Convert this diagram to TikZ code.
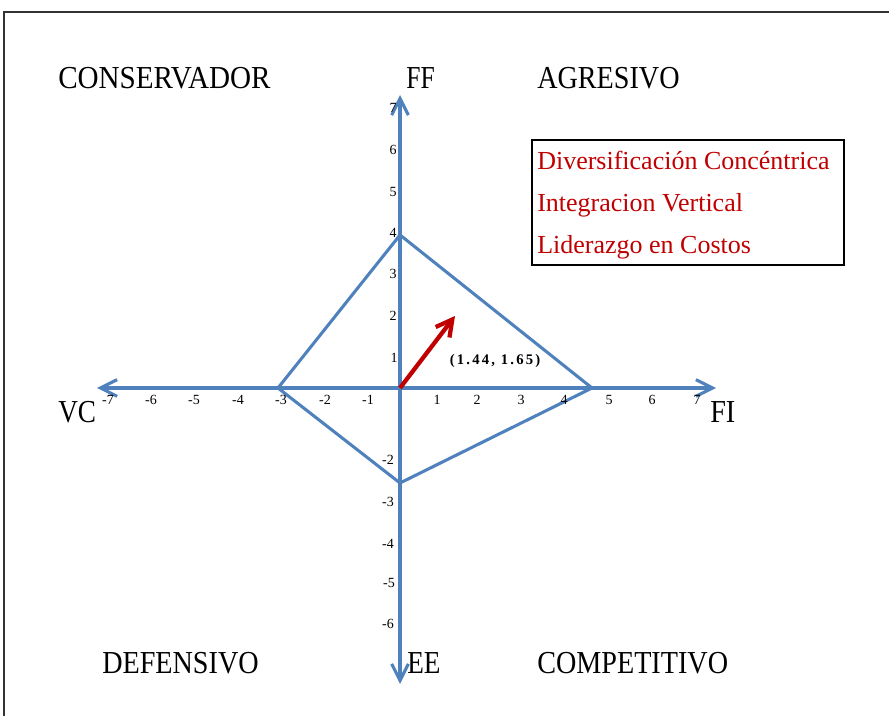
\documentclass[tikz,border=0pt]{standalone}
\usepackage{fontspec}
\setmainfont{Liberation Serif}
\usetikzlibrary{arrows.meta}
\definecolor{axisblue}{RGB}{79,129,189}
\definecolor{boxred}{RGB}{192,0,0}
\definecolor{framegray}{RGB}{50,50,50}
\begin{document}
\begin{tikzpicture}[x=0.75pt,y=-0.75pt,
  axis/.style={draw=axisblue, line width=2.3pt, line join=miter},
  axisarrow/.style={axis, {Straight Barb[length=12.5pt,width=12.5pt]}-{Straight Barb[length=12.5pt,width=12.5pt]}},
  ticklbl/.style={font=\fontsize{10.5}{12}\selectfont, inner sep=0pt, anchor=center},
  biglbl/.style={font=\fontsize{24}{26}\selectfont, inner sep=0pt, anchor=base west},
  redtxt/.style={font=\fontsize{19.5}{22}\selectfont, text=boxred, inner sep=0pt, anchor=base west},
  vec/.style={draw=boxred, line width=3.2pt, -{Straight Barb[length=12pt,width=13pt]}}
]
\useasboundingbox (0,0) rectangle (889,716);
% frame
\draw[framegray, line width=1.1pt] (4,716) -- (4,12) -- (889,12);
% axes
\coordinate (O) at (400,388);
\coordinate (xl) at (97,388);
\coordinate (xr) at (716,388);
\coordinate (yt) at (400,95);
\coordinate (yb) at (400,684);
\draw[axisarrow] (xl) -- (xr);
\draw[axisarrow] (yb) -- (yt);
% quadrilateral
\coordinate (qt) at (400,235);
\coordinate (qr) at (592,388);
\coordinate (qb) at (400,483);
\coordinate (ql) at (278,388);
\draw[axis] (qt) -- (qr) -- (qb) -- (ql) -- cycle;
% vector
\coordinate (vt) at (455,316);
\draw[vec] (O) -- (vt);
\node[font=\fontsize{11}{12}\selectfont\bfseries\addfontfeatures{LetterSpace=15}, inner sep=0pt] (pt) at (495,361) {(1.44, 1.65)};
% x tick labels
\node[ticklbl] (xm7) at (108,400) {-7};
\node[ticklbl] (xm6) at (151,400) {-6};
\node[ticklbl] (xm5) at (194,400) {-5};
\node[ticklbl] (xm4) at (238,400) {-4};
\node[ticklbl] (xm3) at (281,400) {-3};
\node[ticklbl] (xm2) at (325,400) {-2};
\node[ticklbl] (xm1) at (368,400) {-1};
\node[ticklbl] (xp1) at (437,400) {1};
\node[ticklbl] (xp2) at (477,400) {2};
\node[ticklbl] (xp3) at (521,400) {3};
\node[ticklbl] (xp4) at (564,400) {4};
\node[ticklbl] (xp5) at (609,400) {5};
\node[ticklbl] (xp6) at (652,400) {6};
\node[ticklbl] (xp7) at (697,400) {7};
% y tick labels
\node[ticklbl] (yp7) at (393,108) {7};
\node[ticklbl] (yp6) at (393,150) {6};
\node[ticklbl] (yp5) at (393,192) {5};
\node[ticklbl] (yp4) at (393,233) {4};
\node[ticklbl] (yp3) at (393,274) {3};
\node[ticklbl] (yp2) at (393,316) {2};
\node[ticklbl] (yp1) at (394,358) {1};
\node[ticklbl] (ym2) at (388,460) {-2};
\node[ticklbl] (ym3) at (388,502) {-3};
\node[ticklbl] (ym4) at (388,544) {-4};
\node[ticklbl] (ym5) at (389,583) {-5};
\node[ticklbl] (ym6) at (388,624) {-6};
% quadrant and axis labels
\node[biglbl] (cons) at (58,89) {\scalebox{0.91}[1]{CONSERVADOR}};
\node[biglbl] (ff) at (406,89) {\scalebox{0.8}[1]{FF}};
\node[biglbl] (agr) at (537,89) {\scalebox{0.88}[1]{AGRESIVO}};
\node[biglbl] (vc) at (58,423) {\scalebox{0.85}[1]{VC}};
\node[biglbl] (fi) at (710,423) {\scalebox{0.88}[1]{FI}};
\node[biglbl] (def) at (102,673) {\scalebox{0.88}[1]{DEFENSIVO}};
\node[biglbl] (ee) at (407,673) {\scalebox{0.85}[1]{EE}};
\node[biglbl] (comp) at (537,673) {\scalebox{0.88}[1]{COMPETITIVO}};
% strategy box
\node[draw=black, line width=1.5pt, minimum width=312*0.75pt, minimum height=125*0.75pt, inner sep=0pt, anchor=north west] (box) at (531,139) {};
\node[redtxt] (s1) at (537,170) {Diversificación Concéntrica};
\node[redtxt] (s2) at (537,212) {Integracion Vertical};
\node[redtxt] (s3) at (537,254) {Liderazgo en Costos};
\end{tikzpicture}
\end{document}
